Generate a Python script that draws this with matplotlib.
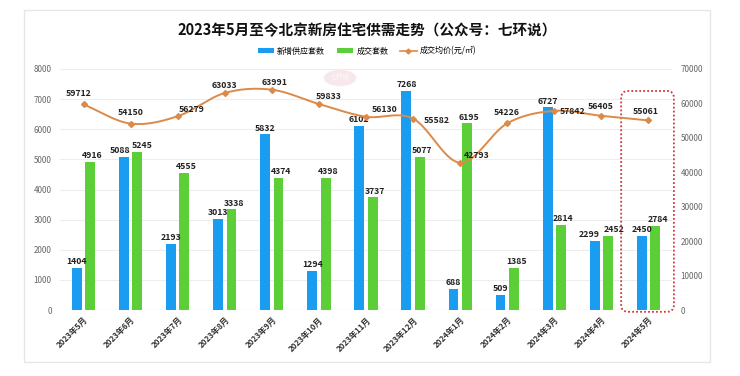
import numpy as np
import matplotlib
matplotlib.use("Agg")
import matplotlib.pyplot as plt
from matplotlib.patches import FancyBboxPatch, Rectangle, Circle

plt.rcParams['font.family'] = ['Noto Sans CJK SC', 'DejaVu Sans']

months = ["2023年5月", "2023年6月", "2023年7月", "2023年8月", "2023年9月", "2023年10月",
          "2023年11月", "2023年12月", "2024年1月", "2024年2月", "2024年3月", "2024年4月", "2024年5月"]
supply = [1404, 5088, 2193, 3013, 5832, 1294, 6102, 7268, 688, 509, 6727, 2299, 2450]
deals = [4916, 5245, 4555, 3338, 4374, 4398, 3737, 5077, 6195, 1385, 2814, 2452, 2784]
price = [59712, 54150, 56279, 63033, 63991, 59833, 56130, 55582, 42793, 54226, 57842, 56405, 55061]

title = "2023年5月至今北京新房住宅供需走势（公众号：七环说）"
labels = ["新增供应套数", "成交套数", "成交均价(元/㎡)"]

BLUE = "#1A9CF0"
GREEN = "#5CCE38"
ORANGE = "#DD8A48"

fig = plt.figure(figsize=(7.4, 3.76), dpi=100)
W, H = 740, 376
# card
fig.patches.append(Rectangle((24 / W, 1 - 362 / H), (710 - 24) / W, (362 - 10) / H,
                             transform=fig.transFigure, facecolor="white",
                             edgecolor="#E6E6E6", lw=1.0))

ax = fig.add_axes([60 / W, 1 - 310 / H, (672 - 60) / W, (310 - 69) / H])
ax2 = ax.twinx()
ax.set_zorder(2)
ax2.set_zorder(3)
ax.patch.set_visible(False)

x = np.arange(len(months))
bw = 0.21
off = 0.142
ax.bar(x - off, supply, bw, color=BLUE, label=labels[0], zorder=3)
ax.bar(x + off, deals, bw, color=GREEN, label=labels[1], zorder=3)

sup_dx = {1: -0.08, 11: -0.12}
deal_dx = {1: 0.1, 11: 0.12}
for i, (xi, v) in enumerate(zip(x, supply)):
    ax.text(xi - off + sup_dx.get(i, 0), v + 60, f"{v}", ha="center", va="bottom", fontsize=6.3,
            fontweight="bold", color="#222222", zorder=5)
for i, (xi, v) in enumerate(zip(x, deals)):
    ax.text(xi + off + deal_dx.get(i, 0.05), v + 60, f"{v}", ha="center", va="bottom", fontsize=6.3,
            fontweight="bold", color="#222222", zorder=5)

ax.set_xlim(-0.5, len(months) - 0.5)
ax.set_ylim(0, 8000)
ax.set_yticks(range(0, 8001, 1000))
ax2.set_ylim(0, 70000)
ax2.set_yticks(range(0, 70001, 10000))
ax.grid(axis="y", color="#EDEDED", lw=0.8, zorder=0)
ax.set_axisbelow(True)

# smooth line (Catmull-Rom through data points)
px = np.asarray(x, float)
py = np.asarray(price, float)
xs, ys = [], []
P = np.column_stack([px, py])
Pext = np.vstack([2 * P[0] - P[1], P, 2 * P[-1] - P[-2]])
for i in range(1, len(Pext) - 2):
    p0, p1, p2, p3 = Pext[i - 1], Pext[i], Pext[i + 1], Pext[i + 2]
    t = np.linspace(0, 1, 30)[:, None]
    seg = 0.5 * ((2 * p1) + (-p0 + p2) * t + (2 * p0 - 5 * p1 + 4 * p2 - p3) * t ** 2 +
                 (-p0 + 3 * p1 - 3 * p2 + p3) * t ** 3)
    xs.extend(seg[:, 0]); ys.extend(seg[:, 1])
ax2.plot(xs, ys, color=ORANGE, lw=1.4, zorder=4)
ax2.plot(px, py, linestyle="none", marker="D", markersize=3, color=ORANGE, zorder=4)
ax2.plot([], [], color=ORANGE, lw=1.2, marker="D", markersize=2.5, label=labels[2])

lab_off = {0: (-0.1, 1800), 1: (0, 1800), 2: (0.3, 700), 3: (0, 800), 4: (0.05, 900),
           5: (0.2, 800), 6: (0.4, 700), 7: (0.5, -1800), 8: (0.35, 700),
           9: (0, 1700), 10: (0.38, -1500), 11: (-0.02, 1400), 12: (-0.05, 1300)}
for i, v in enumerate(price):
    dx, dy = lab_off[i]
    ax2.text(px[i] + dx, v + dy, f"{v}", ha="center", va="bottom", fontsize=6.3,
             fontweight="bold", color="#222222", zorder=6)

for a in (ax, ax2):
    for s in a.spines.values():
        s.set_visible(False)
    a.tick_params(length=0, labelsize=5.8, labelcolor="#666666")
ax.tick_params(axis="y", pad=6)
ax2.tick_params(axis="y", pad=6)

ax.set_xticks(x)
ax.set_xticklabels(months, rotation=45, ha="right", rotation_mode="anchor",
                   fontsize=5.8, fontweight="bold", color="#333333")
ax.tick_params(axis="x", pad=4)
ax.axhline(0, color="#D9D9D9", lw=0.8, zorder=2)

# highlight box around last month
box = FancyBboxPatch((11.42, -60), 1.12, 7330, boxstyle="round,pad=0,rounding_size=0.15",
                     mutation_aspect=1500, fill=False, edgecolor="#D03A3A", lw=1.3,
                     linestyle=(0, (1, 1.2)), zorder=6, clip_on=False)
ax.add_patch(box)

# watermark
fig.patches.append(Circle((340 / W, 1 - 78 / H), 0.022, transform=fig.transFigure,
                          facecolor="#E9BFC6", edgecolor="none", alpha=0.35))
fig.text(340 / W, 1 - 77 / H, "七环说", ha="center", va="center", fontsize=4.5,
         color="white", alpha=0.8)

fig.text(367 / W, 1 - 30 / H, title, ha="center", va="center", fontsize=10.5,
         fontweight="bold", color="#111111")

h1, l1 = ax.get_legend_handles_labels()
h2, l2 = ax2.get_legend_handles_labels()
fig.legend(h1 + h2, l1 + l2, loc="center", bbox_to_anchor=(367 / W, 1 - 51 / H),
           ncol=3, frameon=False, fontsize=5.8, handlelength=2.0, handleheight=0.5,
           columnspacing=1.5, handletextpad=0.4)

fig.savefig("out.png", dpi=100)
